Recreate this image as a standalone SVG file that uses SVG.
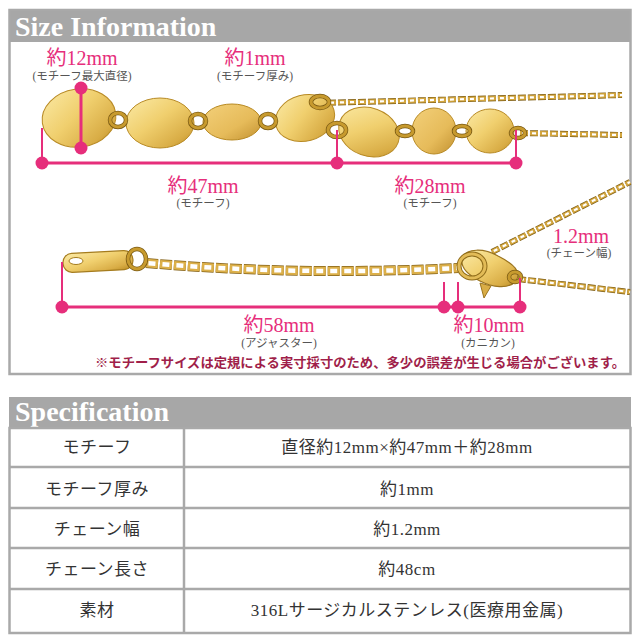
<svg xmlns="http://www.w3.org/2000/svg" width="640" height="640" viewBox="0 0 640 640">
<defs>
<linearGradient id="gold" x1="0" y1="0" x2="1" y2="1">
<stop offset="0" stop-color="#fbeaa6"/>
<stop offset="0.45" stop-color="#f0cf6e"/>
<stop offset="0.8" stop-color="#d9ad46"/>
<stop offset="1" stop-color="#b8891f"/>
</linearGradient>
<linearGradient id="gold2" x1="0" y1="0" x2="1" y2="1">
<stop offset="0" stop-color="#f3d07a"/>
<stop offset="0.6" stop-color="#e6bb5a"/>
<stop offset="1" stop-color="#c29130"/>
</linearGradient>
<style>
.hdr{fill:#a7a7a7}
.frame{fill:none;stroke:#a9a9a9;stroke-width:2.5}
.tline{stroke:#a9a9a9;stroke-width:2.5}
.htxt{font-family:"Liberation Serif",serif;font-weight:bold;font-size:28px;fill:#ffffff}
.disc{fill:url(#gold);stroke:#b88a24;stroke-width:1}
.disc2{fill:url(#gold2);stroke:#b88a24;stroke-width:1}
.ring{fill:none;stroke:#c79a2e;stroke-width:3}
.ringd{fill:none;stroke:#7a5a14;stroke-width:4.5}
.chainO{fill:none;stroke:#7d5d16;stroke-width:6;stroke-dasharray:8 2}
.chain{fill:none;stroke:#d3a63e;stroke-width:4.6;stroke-dasharray:8 2}
.hole{fill:none;stroke:#ffffff;stroke-width:2.2;stroke-dasharray:4 6;stroke-dashoffset:-2}
.extO{fill:none;stroke:#85631a;stroke-width:10;stroke-dasharray:12 2}
.ext{fill:none;stroke:#dcb04a;stroke-width:8.5;stroke-dasharray:12 2}
.exth{fill:none;stroke:#ffffff;stroke-width:4.5;stroke-dasharray:7 7;stroke-dashoffset:-2.5}
.dim{stroke:#e62e7b;stroke-width:3;fill:none}
.dimv{stroke:#e62e7b;stroke-width:2;fill:none}
.dot{fill:#e62e7b}
.pk{font-family:"Liberation Serif","Noto Sans CJK JP",serif;font-size:20px;fill:#e62e7b;text-anchor:middle}
.sub{font-family:"Liberation Serif","Noto Sans CJK JP",serif;font-size:11.5px;fill:#555555;text-anchor:middle}
.note{font-family:"Liberation Serif","Noto Sans CJK JP",serif;font-size:13px;font-weight:bold;fill:#a01f4a}
.cell{font-family:"Liberation Serif","Noto Sans CJK JP",serif;font-size:17px;fill:#333333;text-anchor:middle;letter-spacing:0.5px}
</style>
</defs>
<rect width="640" height="640" fill="#ffffff"/>

<g id="size-section">
<rect class="hdr" x="9" y="10" width="622" height="32"/>
<rect class="frame" x="9.5" y="10" width="621" height="364"/>
<text class="htxt" x="15" y="36">Size Information</text>
</g>

<g id="necklace-top">
<path class="chainO" d="M318,103 L622,95"/>
<path class="chain" d="M318,103 L622,95"/>
<path class="hole" d="M318,103 L622,95"/>
<path class="chainO" d="M520,133 L622,135"/>
<path class="chain" d="M520,133 L622,135"/>
<path class="hole" d="M520,133 L622,135"/>
<ellipse class="disc" cx="79" cy="118" rx="37" ry="29" transform="rotate(-8 79 118)"/>
<ellipse class="disc" cx="160" cy="123" rx="34" ry="25"/>
<ellipse class="disc2" cx="232" cy="122" rx="29" ry="18"/>
<ellipse class="disc" cx="305" cy="118" rx="30" ry="23" transform="rotate(-15 305 118)"/>
<ellipse class="disc" cx="369" cy="132" rx="31" ry="24" transform="rotate(20 369 132)"/>
<ellipse class="disc2" cx="434" cy="131" rx="22" ry="23"/>
<ellipse class="disc" cx="490" cy="131" rx="24" ry="22"/>
<ellipse class="ringd" cx="118" cy="120" rx="8" ry="7"/>
<ellipse class="ring" cx="118" cy="120" rx="8" ry="7"/>
<ellipse class="ringd" cx="198" cy="121" rx="8" ry="7"/>
<ellipse class="ring" cx="198" cy="121" rx="8" ry="7"/>
<ellipse class="ringd" cx="268" cy="121" rx="8" ry="7"/>
<ellipse class="ring" cx="268" cy="121" rx="8" ry="7"/>
<ellipse class="ringd" cx="320" cy="102" rx="9" ry="6"/>
<ellipse class="ring" cx="320" cy="102" rx="9" ry="6"/>
<ellipse class="ringd" cx="337" cy="130" rx="9" ry="7"/>
<ellipse class="ring" cx="337" cy="130" rx="9" ry="7"/>
<ellipse class="ringd" cx="405" cy="131" rx="8" ry="5"/>
<ellipse class="ring" cx="405" cy="131" rx="8" ry="5"/>
<ellipse class="ringd" cx="462" cy="131" rx="8" ry="5"/>
<ellipse class="ring" cx="462" cy="131" rx="8" ry="5"/>
<ellipse class="ringd" cx="518" cy="133" rx="7" ry="5"/>
<ellipse class="ring" cx="518" cy="133" rx="7" ry="5"/>
</g>

<g id="necklace-bottom">
<path class="chainO" d="M492,252 L630,182"/>
<path class="chain" d="M492,252 L630,182"/>
<path class="hole" d="M492,252 L630,182"/>
<path class="chainO" d="M518,279 L630,292"/>
<path class="chain" d="M518,279 L630,292"/>
<path class="hole" d="M518,279 L630,292"/>
<path class="extO" d="M146,263 Q300,276 458,268"/>
<path class="ext" d="M146,263 Q300,276 458,268"/>
<path class="exth" d="M146,263 Q300,276 458,268"/>
<rect x="63" y="252" width="70" height="19" rx="9" fill="url(#gold)" stroke="#a57c1e" stroke-width="1.2" transform="rotate(-3 98 262)"/>
<ellipse cx="76" cy="261" rx="7" ry="3.5" fill="#ffffff" stroke="#a57c1e" stroke-width="1"/>
<ellipse class="ringd" cx="137" cy="259" rx="9" ry="10"/>
<ellipse class="ring" cx="137" cy="259" rx="9" ry="10"/>
<path d="M462,258 C466,248 484,248 498,256 C514,264 522,272 516,281 C508,290 492,287 480,281 C470,276 460,268 462,258 Z" fill="url(#gold)" stroke="#9a7420" stroke-width="1.2"/>
<path d="M480,283 L484,298 L491,286 Z" fill="#d9ad46" stroke="#9a7420" stroke-width="1"/>
<ellipse cx="472" cy="266" rx="13" ry="12" fill="none" stroke="#8f6c1a" stroke-width="5"/>
<ellipse cx="472" cy="266" rx="13" ry="12" fill="none" stroke="#e2bb57" stroke-width="3"/>
<ellipse class="ringd" cx="515" cy="277" rx="6" ry="5"/>
<ellipse class="ring" cx="515" cy="277" rx="6" ry="5"/>
</g>

<g id="dimensions">
<line class="dim" x1="81" y1="88" x2="81" y2="148"/>
<circle class="dot" cx="81" cy="88" r="6.5"/>
<circle class="dot" cx="81" cy="148" r="6.5"/>
<line class="dimv" x1="42" y1="128" x2="42" y2="163"/>
<line class="dimv" x1="337" y1="130" x2="337" y2="163"/>
<line class="dimv" x1="516" y1="130" x2="516" y2="163"/>
<line class="dim" x1="42" y1="163" x2="516" y2="163"/>
<circle class="dot" cx="42" cy="163" r="6.5"/>
<circle class="dot" cx="337" cy="163" r="6.5"/>
<circle class="dot" cx="516" cy="163" r="6.5"/>
<line class="dimv" x1="62" y1="262" x2="62" y2="307"/>
<line class="dimv" x1="444" y1="282" x2="444" y2="307"/>
<line class="dimv" x1="458" y1="282" x2="458" y2="307"/>
<line class="dimv" x1="520" y1="278" x2="520" y2="307"/>
<line class="dim" x1="62" y1="307" x2="520" y2="307"/>
<circle class="dot" cx="62" cy="307" r="6.5"/>
<circle class="dot" cx="444" cy="307" r="6.5"/>
<circle class="dot" cx="458" cy="307" r="6.5"/>
<circle class="dot" cx="520" cy="307" r="6.5"/>
</g>

<g id="labels">
<text class="pk" x="82" y="65">約12mm</text>
<text class="sub" x="82" y="80">(モチーフ最大直径)</text>
<text class="pk" x="255" y="65">約1mm</text>
<text class="sub" x="255" y="80">(モチーフ厚み)</text>
<text class="pk" x="203" y="193">約47mm</text>
<text class="sub" x="203" y="207">(モチーフ)</text>
<text class="pk" x="430" y="193">約28mm</text>
<text class="sub" x="430" y="207">(モチーフ)</text>
<text class="pk" x="581" y="243">1.2mm</text>
<text class="sub" x="579" y="257">(チェーン幅)</text>
<text class="pk" x="279" y="332">約58mm</text>
<text class="sub" x="279" y="347">(アジャスター)</text>
<text class="pk" x="489" y="332">約10mm</text>
<text class="sub" x="488" y="347">(カニカン)</text>
<text class="note" x="95" y="367" textLength="530" lengthAdjust="spacingAndGlyphs">※モチーフサイズは定規による実寸採寸のため、多少の誤差が生じる場合がございます。</text>
</g>

<g id="spec-section">
<rect class="hdr" x="9" y="397" width="622" height="31"/>
<text class="htxt" x="15" y="421">Specification</text>
<rect class="frame" x="9.5" y="428" width="621" height="205"/>
<line class="tline" x1="184" y1="428" x2="184" y2="633"/>
<line class="tline" x1="9" y1="467" x2="631" y2="467"/>
<line class="tline" x1="9" y1="508" x2="631" y2="508"/>
<line class="tline" x1="9" y1="548" x2="631" y2="548"/>
<line class="tline" x1="9" y1="589" x2="631" y2="589"/>
</g>

<g id="spec-rows">
<text class="cell" x="97" y="453">モチーフ</text>
<text class="cell" x="407" y="453">直径約12mm×約47mm＋約28mm</text>
<text class="cell" x="97" y="495">モチーフ厚み</text>
<text class="cell" x="407" y="495">約1mm</text>
<text class="cell" x="97" y="535">チェーン幅</text>
<text class="cell" x="407" y="535">約1.2mm</text>
<text class="cell" x="97" y="575">チェーン長さ</text>
<text class="cell" x="407" y="575">約48cm</text>
<text class="cell" x="97" y="616">素材</text>
<text class="cell" x="407" y="616">316Lサージカルステンレス(医療用金属)</text>
</g>
</svg>
